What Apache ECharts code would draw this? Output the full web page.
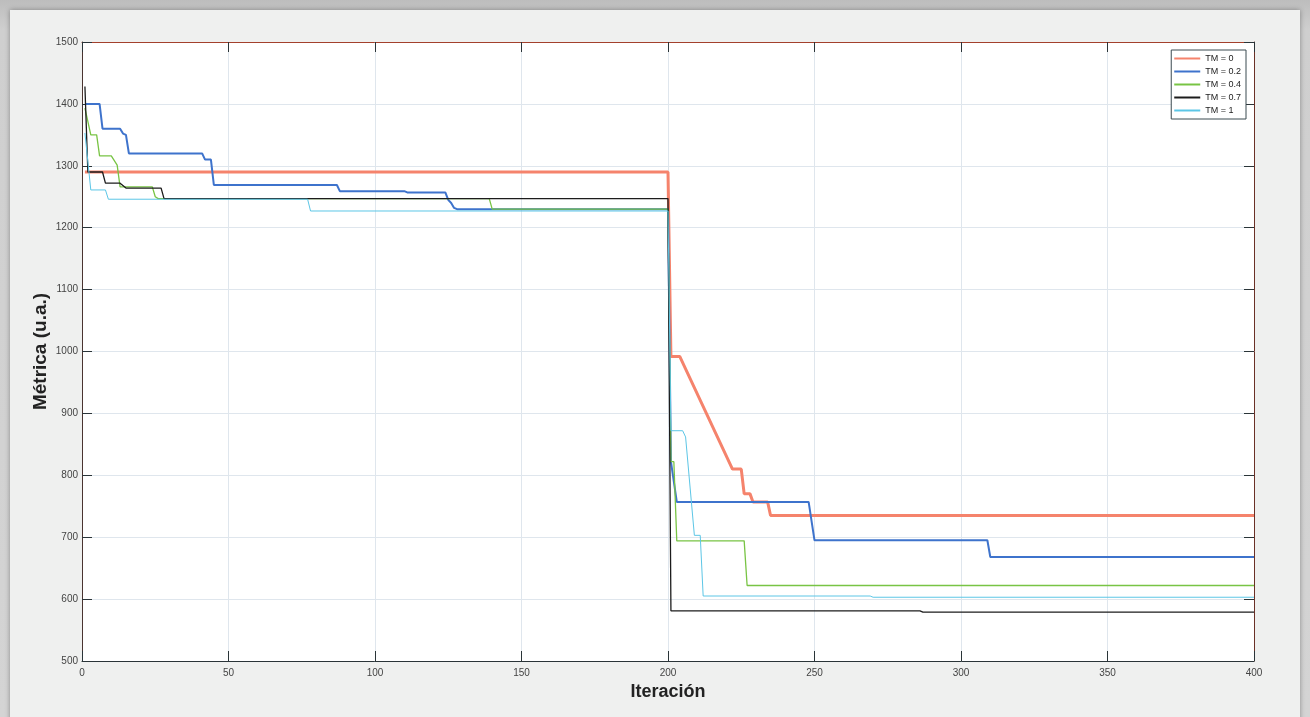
<!DOCTYPE html>
<html>
<head>
<meta charset="utf-8">
<script src="https://cdn.jsdelivr.net/npm/echarts@6/dist/echarts.min.js"></script>
<style>
  html, body { margin: 0; padding: 0; width: 1310px; height: 717px; overflow: hidden;
    background: linear-gradient(#bdbdbd, #cfcfcf 30px, #d4d4d4); }
  #panel { position: absolute; left: 10px; top: 10px; width: 1290px; height: 720px;
    background: #eff0ef; box-shadow: 0 0 5px rgba(0,0,0,0.35); }
  #chart { position: absolute; left: 0; top: 0; width: 1310px; height: 717px; }
</style>
</head>
<body>
<div id="panel"></div>
<div id="chart"></div>
<script>
// Axis ticks
const xTicks = { min: 0, max: 400, interval: 50 };
const yTicks = { min: 500, max: 1500, interval: 100 };

// Series names
const seriesNames = ['TM = 0', 'TM = 0.2', 'TM = 0.4', 'TM = 0.7', 'TM = 1'];

// Best metric per iteration, as [iteration, value] breakpoints of each run
const tm0 = [
  [1, 1290], [200, 1290], [201, 992], [204, 992], [222, 810], [225, 810],
  [226, 770], [228, 770], [229, 757], [234, 757], [235, 735], [400, 735]
];
const tm02 = [
  [1, 1400], [6, 1400], [7, 1360], [13, 1360], [14, 1352], [15, 1350], [16, 1320],
  [41, 1320], [42, 1310], [44, 1310], [45, 1269], [87, 1269], [88, 1259],
  [110, 1259], [111, 1257], [124, 1257], [125, 1245], [126, 1240], [127, 1232],
  [128, 1230], [200, 1230], [201, 822], [203, 757], [248, 757], [250, 695],
  [309, 695], [310, 668], [400, 668]
];
const tm04 = [
  [1, 1393], [3, 1350], [5, 1350], [6, 1316], [10, 1316], [12, 1301], [13, 1266],
  [24, 1266], [25, 1250], [26, 1247], [139, 1247], [140, 1230], [200, 1230],
  [201, 822], [202, 822], [203, 694], [226, 694], [227, 622], [400, 622]
];
const tm07 = [
  [1, 1428], [2, 1290], [7, 1290], [8, 1272], [13, 1272], [15, 1264], [27, 1264],
  [28, 1247], [200, 1247], [201, 581], [286, 581], [287, 579], [400, 579]
];
const tm1 = [
  [1, 1353], [3, 1261], [8, 1261], [9, 1246], [77, 1246], [78, 1227], [200, 1227],
  [201, 872], [205, 872], [206, 862], [209, 703], [211, 703], [212, 605],
  [269, 605], [270, 603], [400, 603]
];

const seriesData = [tm0, tm02, tm04, tm07, tm1];
const lineColors = ['#f5836c', '#3e73cc', '#78c444', '#1c1c1c', '#5cc6e6'];
const lineWidths = [3, 2, 1.3, 1.3, 1];

const font = "'Liberation Sans', Arial, Helvetica, sans-serif";
const boxColor = '#a3402c';
const axisColor = '#2a3438';
const gridColor = '#dfe6ed';

const chart = echarts.init(document.getElementById('chart'), null, { renderer: 'canvas' });

function baseAxis(extra, lineColor) {
  return Object.assign({
    type: 'value',
    axisLine: { show: true, onZero: false, lineStyle: { color: lineColor || axisColor, width: 1 } },
    axisTick: { show: true, inside: true, length: 10, lineStyle: { color: axisColor } },
    axisLabel: { color: '#444', fontSize: 10, fontFamily: font, formatter: v => String(v) },
    splitLine: { show: true, lineStyle: { color: gridColor, width: 1 } }
  }, extra);
}

chart.setOption({
  backgroundColor: 'transparent',
  animation: false,
  grid: {
    left: 82, right: 56, top: 42, bottom: 56,
    show: true, backgroundColor: '#ffffff', borderWidth: 0
  },
  legend: {
    data: seriesNames,
    orient: 'vertical',
    right: 64, top: 50,
    backgroundColor: '#ffffff',
    borderColor: '#3b4a50', borderWidth: 1,
    padding: [4, 5, 4, 3],
    itemGap: 4,
    icon: 'rect',
    itemWidth: 26, itemHeight: 2,
    textStyle: { fontSize: 9, color: '#222', fontFamily: font }
  },
  xAxis: [
    baseAxis({
      min: xTicks.min, max: xTicks.max, interval: xTicks.interval,
      position: 'bottom',
      axisLabel: { color: '#444', fontSize: 10, fontFamily: font, margin: 7, formatter: v => String(v) },
      name: 'Iteración', nameLocation: 'middle', nameGap: 22, nameMoveOverlap: false,
      nameTextStyle: { fontSize: 18, fontWeight: 'bold', color: '#222', fontFamily: font }
    }),
    baseAxis({
      min: xTicks.min, max: xTicks.max, interval: xTicks.interval,
      position: 'top',
      axisLabel: { show: false }, splitLine: { show: false }
    }, boxColor)
  ],
  yAxis: [
    baseAxis({
      min: yTicks.min, max: yTicks.max, interval: yTicks.interval,
      position: 'left',
      axisLabel: { color: '#444', fontSize: 10, fontFamily: font, margin: 4, formatter: v => String(v) },
      name: 'Métrica (u.a.)', nameLocation: 'middle', nameGap: 32, nameMoveOverlap: false,
      nameTextStyle: { fontSize: 19, fontWeight: 'bold', color: '#222', fontFamily: font }
    }, '#4a3430'),
    baseAxis({
      min: yTicks.min, max: yTicks.max, interval: yTicks.interval,
      position: 'right',
      axisLabel: { show: false }, splitLine: { show: false }
    }, '#6a3026')
  ],
  series: seriesData.map((d, i) => ({
    name: seriesNames[i],
    type: 'line',
    xAxisIndex: 0, yAxisIndex: 0,
    data: d,
    symbol: 'none',
    showSymbol: false,
    clip: true,
    lineStyle: { color: lineColors[i], width: lineWidths[i] },
    itemStyle: { color: lineColors[i] },
    emphasis: { disabled: true },
    z: 2 + i
  }))
});
</script>
</body>
</html>
